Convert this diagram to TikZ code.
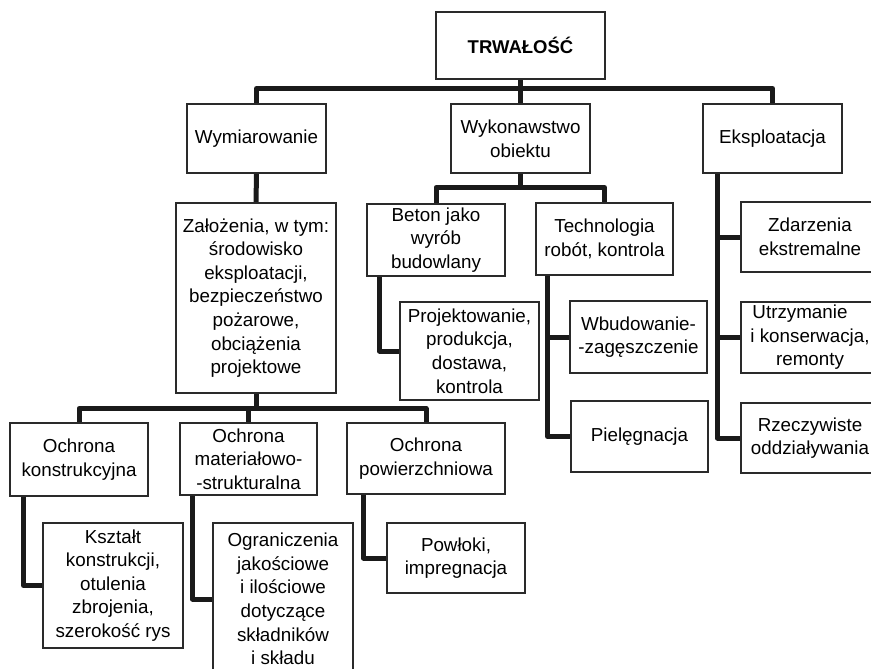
\documentclass[tikz,border=0pt]{standalone}
\usepackage{fontspec}
\setmainfont{Liberation Sans}
\definecolor{lineblk}{HTML}{1A1A1A}
\definecolor{boxblk}{HTML}{2A2A2A}
\tikzset{
  box/.style={draw=boxblk, line width=1.1pt, fill=white, align=center, inner sep=2pt,
    font=\fontsize{18.8}{23.6}\selectfont, text=black},
  conn/.style={draw=lineblk, line width=5pt, line join=round}
}
\begin{document}
\begin{tikzpicture}[x=1pt,y=-1pt]
\clip (0,0) rectangle (871,669);
\fill[white] (0,0) rectangle (871,669);

\path
 (520.5,45.5) node[box, minimum width=169pt, minimum height=67pt, font=\fontsize{18.5}{24}\selectfont\bfseries] (T) {TRWAŁOŚĆ}
 (256.5,138.5) node[box, minimum width=139pt, minimum height=69pt] (W) {Wymiarowanie}
 (520.5,138.5) node[box, minimum width=138pt, minimum height=69pt] (K) {Wykonawstwo\\obiektu}
 (772.5,138.5) node[box, minimum width=139pt, minimum height=69pt] (E) {Eksploatacja}
 (256,298) node[box, minimum width=160pt, minimum height=190pt] (Z) {Założenia, w tym:\\środowisko\\eksploatacji,\\bezpieczeństwo\\pożarowe,\\obciążenia\\projektowe}
 (436,240) node[box, minimum width=138pt, minimum height=72pt] (B) {Beton jako\\wyrób\\budowlany}
 (604.5,239) node[box, minimum width=137pt, minimum height=72pt] (TE) {Technologia\\robót, kontrola}
 (469.5,351) node[box, minimum width=139pt, minimum height=98pt] (PR) {Projektowanie,\\produkcja,\\dostawa,\\kontrola}
 (638.5,337) node[box, minimum width=137pt, minimum height=72pt] (WB) {Wbudowanie-\\-zagęszczenie}
 (639.5,436.5) node[box, minimum width=137pt, minimum height=71pt] (PI) {Pielęgnacja}
 (810,237) node[box, minimum width=138pt, minimum height=70pt] (ZD) {Zdarzenia\\ekstremalne}
 (810,337.5) node[box, minimum width=138pt, minimum height=71pt] (UT) {Utrzymanie\hspace*{20pt}\\i konserwacja,\\remonty}
 (810,438) node[box, minimum width=138pt, minimum height=70pt] (RZ) {Rzeczywiste\\oddziaływania}
 (79,459.5) node[box, minimum width=138pt, minimum height=73pt] (OK) {Ochrona\\konstrukcyjna}
 (248.5,459) node[box, minimum width=137pt, minimum height=72pt] (OM) {Ochrona\\materiałowo-\\-strukturalna}
 (426,458.5) node[box, minimum width=158pt, minimum height=71pt] (OP) {Ochrona\\powierzchniowa}
 (113,585.5) node[box, minimum width=140pt, minimum height=125pt] (KS) {Kształt\\konstrukcji,\\otulenia\\zbrojenia,\\szerokość rys}
 (283,599) node[box, minimum width=140pt, minimum height=152pt] (OG) {Ograniczenia\\jakościowe\\i ilościowe\\dotyczące\\składników\\i składu}
 (456,558) node[box, minimum width=138pt, minimum height=70pt] (PW) {Powłoki,\\impregnacja};

% level 0 -> level 1
\draw[conn] (T.south) -- (K.north);
\draw[conn] (W.north) -- ++(0,-15) -| (E.north);
% Wymiarowanie branch
\draw[conn] (W.south) -- (Z.north);
\draw[conn] (Z.south) -- ++(0,16);
\draw[conn] (OK.north) -- ++(0,-14) -| (OP.north);
\draw[conn] (OM.north) -- ++(0,-14);
\draw[conn] ([xshift=14pt]OK.south west) |- (KS.west);
\draw[conn] ([xshift=13pt]OM.south west) |- (OG.west);
\draw[conn] ([xshift=17pt]OP.south west) |- (PW.west);
% Wykonawstwo branch
\draw[conn] (K.south) -- ++(0,15);
\draw[conn] (B.north) -- ++(0,-16) -| (TE.north);
\draw[conn] ([xshift=13pt]B.south west) |- (PR.west);
\draw[conn] ([xshift=12pt]TE.south west) |- (WB.west);
\draw[conn] ([xshift=12pt]TE.south west) |- (PI.west);
% Eksploatacja branch
\draw[conn] ([xshift=15pt]E.south west) |- (ZD.west);
\draw[conn] ([xshift=15pt]E.south west) |- (UT.west);
\draw[conn] ([xshift=15pt]E.south west) |- (RZ.west);

% box outlines on top of connector ends
\foreach \n in {T,W,K,E,Z,B,TE,PR,WB,PI,ZD,UT,RZ,OK,OM,OP,KS,OG,PW}{
  \draw[draw=boxblk, line width=1.1pt] (\n.north west) rectangle (\n.south east);
}
\end{tikzpicture}
\end{document}
